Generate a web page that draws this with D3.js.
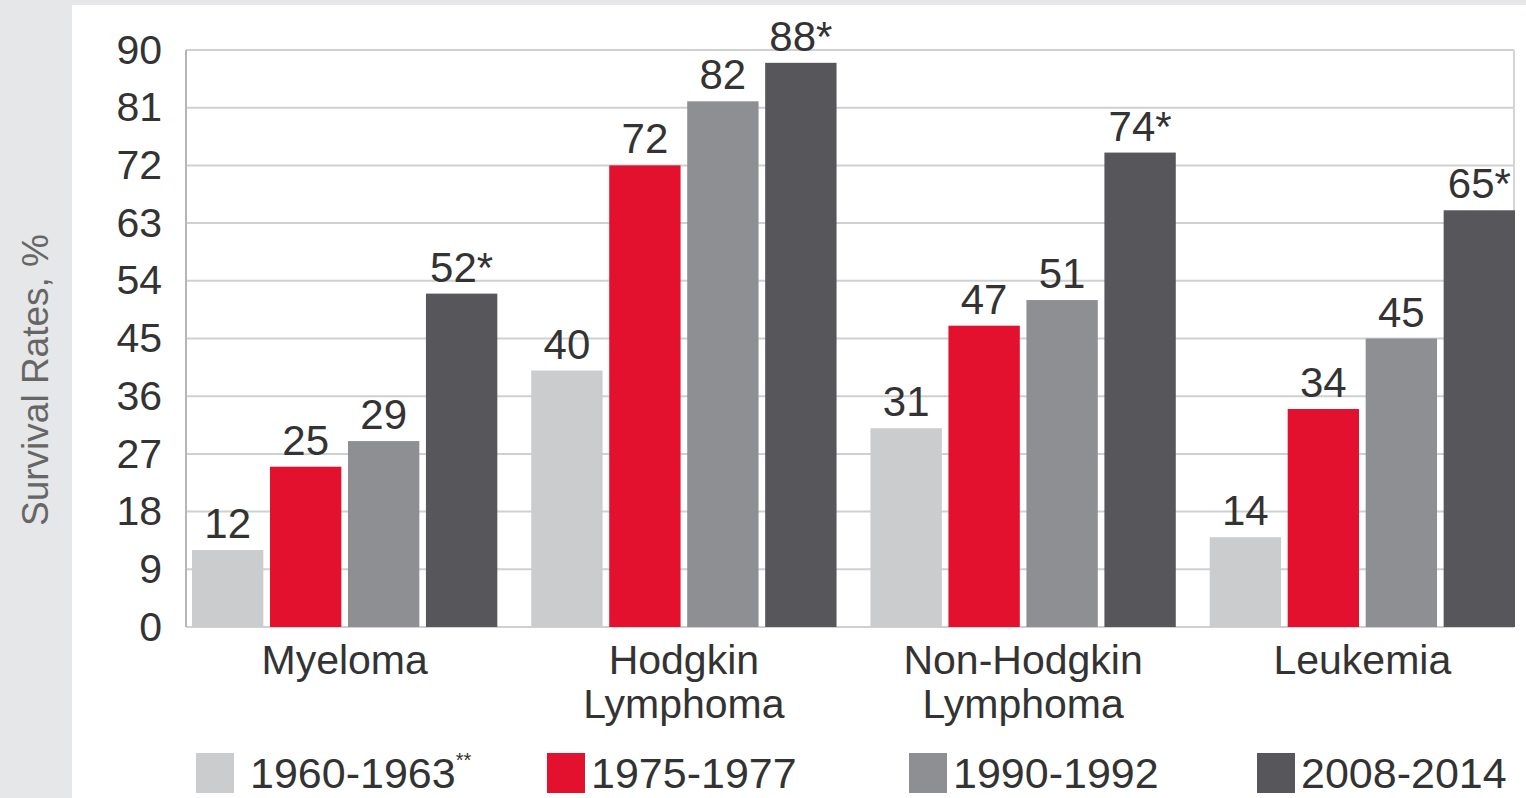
<!DOCTYPE html>
<html>
<head>
<meta charset="utf-8">
<script src="https://cdn.jsdelivr.net/npm/d3@7"></script>
<style>
  html, body { margin: 0; padding: 0; background: #e6e7e8; }
  svg { display: block; font-family: "Liberation Sans", Arial, Helvetica, sans-serif; }
</style>
</head>
<body>
<svg id="chart" width="1526" height="798"></svg>
<script>
// Five-year relative survival rates by blood cancer type and diagnosis period
const categories = [["Myeloma"], ["Hodgkin", "Lymphoma"], ["Non-Hodgkin", "Lymphoma"], ["Leukemia"]];
const periods = ["1960-1963", "1975-1977", "1990-1992", "2008-2014"];
const periodNotes = ["**", "", "", ""];
const rates1960 = [12, 40, 31, 14];
const rates1975 = [25, 72, 47, 34];
const rates1990 = [29, 82, 51, 45];
const rates2008 = [52, 88, 74, 65];
const significant2008 = [true, true, true, true];
const yTicks = [0, 9, 18, 27, 36, 45, 54, 63, 72, 81, 90];
const colors = ["#cbccce", "#e3102e", "#8e8f93", "#56565b"];

const seriesValues = [rates1960, rates1975, rates1990, rates2008];
const catKeys = categories.map(c => c.join(" "));

const svg = d3.select("#chart");
const W = 1526, H = 798;

// white panel
svg.append("rect").attr("x", 72).attr("y", 5).attr("width", W - 72).attr("height", H - 5).attr("fill", "#ffffff");

const frame = { left: 186, right: 1514, top: 50, bottom: 627 };

const y = d3.scaleLinear().domain([0, 90]).range([frame.bottom, frame.top]);
const x0 = d3.scaleBand().domain(catKeys).range([192, 1515]).paddingInner(0.1).paddingOuter(0);
const x1 = d3.scaleBand().domain(periods).range([0, x0.bandwidth()]).paddingInner(0.085).paddingOuter(0);

// gridlines
svg.append("g")
  .selectAll("line")
  .data(yTicks)
  .join("line")
  .attr("x1", frame.left).attr("x2", frame.right)
  .attr("y1", d => y(d)).attr("y2", d => y(d))
  .attr("stroke", "#cfd0d2").attr("stroke-width", 2);

// frame sides
svg.append("line").attr("x1", frame.left).attr("x2", frame.left).attr("y1", frame.top).attr("y2", frame.bottom)
  .attr("stroke", "#b5b6b8").attr("stroke-width", 2);
svg.append("line").attr("x1", frame.right).attr("x2", frame.right).attr("y1", frame.top).attr("y2", frame.bottom)
  .attr("stroke", "#d4d5d7").attr("stroke-width", 2);

// y axis labels
const yAxis = d3.axisLeft(y).tickValues(yTicks).tickSize(0).tickPadding(0);
const yG = svg.append("g").attr("transform", `translate(${frame.left - 24},0)`).call(yAxis);
yG.select(".domain").remove();
yG.selectAll("text").attr("font-size", 41).attr("fill", "#333").attr("font-family", "Liberation Sans, Arial, sans-serif");

// bars
const rows = catKeys.map((k, i) => ({ key: k, vals: periods.map((p, j) => ({ period: p, j, v: seriesValues[j][i], i })) }));

const groups = svg.append("g").selectAll("g")
  .data(rows).join("g")
  .attr("transform", d => `translate(${x0(d.key)},0)`);

groups.selectAll("rect")
  .data(d => d.vals).join("rect")
  .attr("x", d => x1(d.period))
  .attr("width", x1.bandwidth())
  .attr("y", d => y(d.v))
  .attr("height", d => y(0) - y(d.v))
  .attr("fill", d => colors[d.j]);

groups.selectAll("text")
  .data(d => d.vals).join("text")
  .attr("x", d => x1(d.period) + x1.bandwidth() / 2)
  .attr("y", d => y(d.v) - 12)
  .attr("text-anchor", "middle")
  .attr("font-size", 42)
  .attr("fill", "#333")
  .text(d => d.v + (d.j === 3 && significant2008[d.i] ? "*" : ""));

// category labels, one text per line
const catG = svg.append("g");
categories.forEach((lines, i) => {
  const cx = x0(catKeys[i]) + x0.bandwidth() / 2;
  lines.forEach((ln, k) => {
    catG.append("text")
      .attr("x", cx)
      .attr("y", 674 + k * 44)
      .attr("text-anchor", "middle")
      .attr("font-size", 41)
      .attr("fill", "#333")
      .text(ln);
  });
});

// y axis title
svg.append("text")
  .attr("transform", `translate(48,380) rotate(-90)`)
  .attr("text-anchor", "middle")
  .attr("font-size", 37)
  .attr("fill", "#666")
  .text("Survival Rates, %");

// legend
const legendX = [196, 547, 909, 1257];
const lg = svg.append("g");
periods.forEach((p, j) => {
  lg.append("rect").attr("x", legendX[j]).attr("y", 753).attr("width", 38).attr("height", 40).attr("fill", colors[j]);
  const t = lg.append("text")
    .attr("x", legendX[j] + (j === 0 ? 54 : 44))
    .attr("y", 788)
    .attr("font-size", 43)
    .attr("fill", "#333")
    .text(p);
  if (periodNotes[j]) {
    t.append("tspan").attr("font-size", 20).attr("dy", -21).text(periodNotes[j]);
  }
});
</script>
</body>
</html>
